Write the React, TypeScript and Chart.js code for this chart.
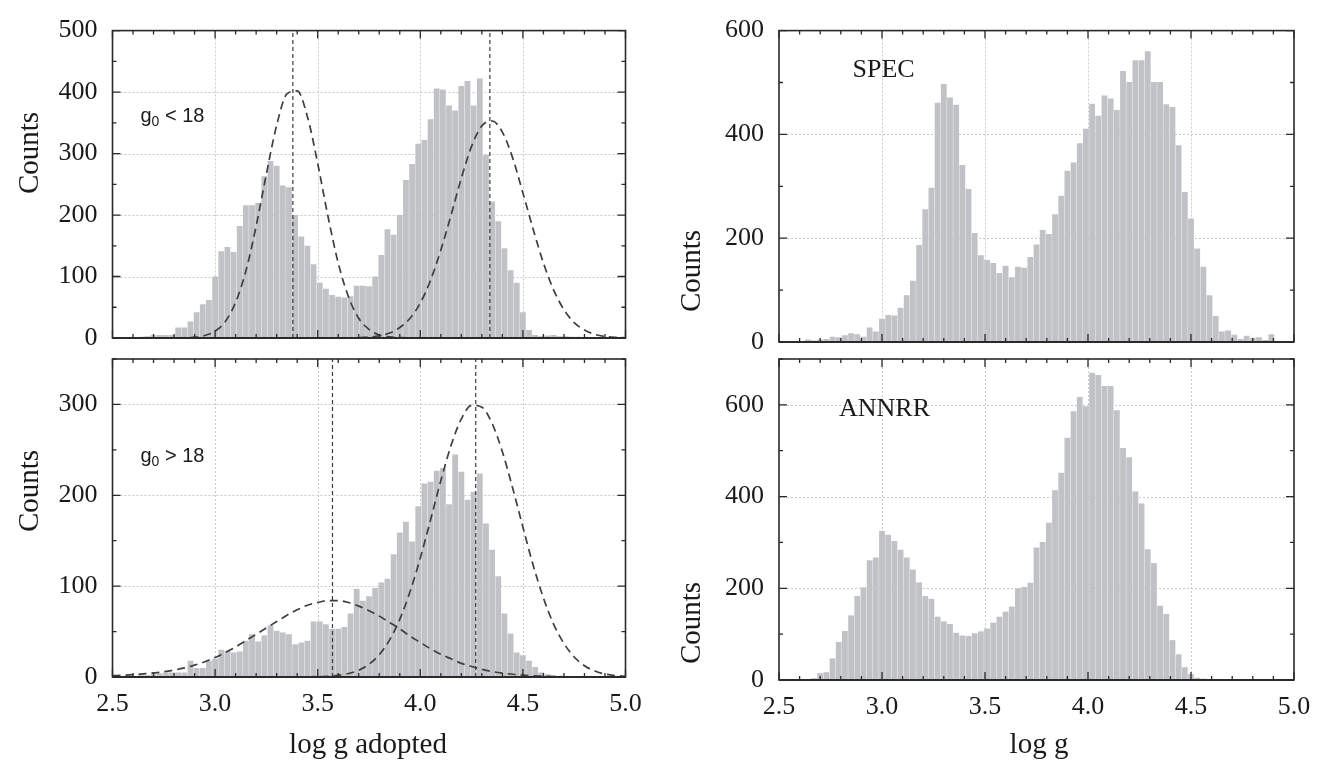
import { useEffect, useRef } from 'react';
import { Chart, registerables } from 'chart.js';

Chart.register(...registerables);

// ---------------- data ----------------
const BIN_START = 2.64; // centre of the first histogram bin
const BIN_WIDTH = 0.03;

const topLeftCounts = [
  2, 3, 5, 5, 5, 5, 17, 17, 27, 42,
  55, 62, 100, 141, 148, 140, 182, 216, 216, 220,
  263, 288, 280, 248, 245, 200, 165, 150, 120, 90,
  80, 70, 67, 66, 68, 85, 85, 84, 100, 135,
  177, 168, 200, 257, 283, 316, 322, 356, 406, 404,
  378, 370, 410, 418, 378, 422, 298, 222, 190, 146,
  110, 90, 42, 13, 5, 3, 4, 5, 3, 3,
  2, 2, 1, 1, 1, 1,
];

const bottomLeftCounts = [
  2, 2, 3, 4, 5, 5, 5, 5, 18, 10,
  10, 18, 20, 30, 29, 27, 28, 40, 47, 39,
  46, 57, 51, 49, 47, 36, 38, 40, 61, 61,
  58, 53, 53, 55, 70, 97, 84, 89, 98, 104,
  108, 135, 159, 171, 149, 188, 213, 215, 227, 230,
  190, 245, 226, 195, 204, 224, 169, 140, 111, 70,
  48, 27, 24, 18, 11, 5, 3, 2, 1, 1,
  1, 1, 1, 1, 0, 0,
];

const specCounts = [
  5, 3, 5, 6, 10, 9, 13, 17, 15, 10,
  28, 20, 45, 52, 51, 66, 90, 118, 187, 256,
  297, 461, 497, 471, 457, 341, 295, 210, 167, 158,
  152, 133, 147, 125, 145, 143, 164, 188, 216, 208,
  246, 282, 330, 346, 383, 411, 459, 436, 475, 469,
  447, 522, 501, 543, 543, 560, 501, 501, 458, 453,
  379, 289, 238, 180, 145, 90, 50, 20, 22, 14,
  6, 12, 8, 9, 4, 15,
];

const annrrCounts = [
  2, 4, 15, 17, 47, 83, 107, 141, 183, 202,
  261, 267, 325, 317, 303, 284, 267, 241, 213, 183,
  177, 138, 128, 122, 103, 97, 96, 102, 106, 112,
  125, 138, 149, 160, 200, 203, 212, 289, 301, 343,
  414, 452, 528, 586, 617, 597, 670, 665, 641, 641,
  588, 506, 486, 411, 385, 285, 255, 162, 144, 87,
  56, 28, 13, 5, 3, 2, 1, 1, 1, 1,
  1, 1, 0, 0, 0, 0,
];

const CURVE_X = [
  2.5, 2.55, 2.6, 2.65, 2.7, 2.75, 2.8, 2.85, 2.9, 2.95,
  3.0, 3.05, 3.1, 3.15, 3.2, 3.25, 3.3, 3.35, 3.4, 3.45,
  3.5, 3.55, 3.6, 3.65, 3.7, 3.75, 3.8, 3.85, 3.9, 3.95,
  4.0, 4.05, 4.1, 4.15, 4.2, 4.25, 4.3, 4.35, 4.4, 4.45,
  4.5, 4.55, 4.6, 4.65, 4.7, 4.75, 4.8, 4.85, 4.9, 4.95, 5.0,
];

const topLeftFitLow = [
  0, 0, 0, 0, 0, 0.1, 0.1, 0.4, 1.3, 4.1,
  11, 27, 58, 109, 182, 267, 346, 397, 402, 360,
  284, 198, 122, 67, 32, 14, 5, 1.7, 0.5, 0.1,
  0, 0, 0, 0, 0, 0, 0, 0, 0, 0,
  0, 0, 0, 0, 0, 0, 0, 0, 0, 0, 0,
];
const topLeftFitHigh = [
  0, 0, 0, 0, 0, 0, 0, 0, 0, 0,
  0, 0, 0, 0, 0, 0, 0, 0, 0, 0,
  0, 0, 0, 0.2, 0.6, 1.5, 3.6, 8, 17, 32,
  57, 94, 143, 200, 260, 312, 345, 353, 335, 293,
  236, 177, 122, 78, 46, 25, 13, 6, 2.5, 1, 0.4,
];
const bottomLeftFitLow = [
  1.5, 2, 2.6, 3.4, 4.5, 5.8, 7.6, 10, 13, 16.8,
  21.5, 27, 33, 40, 47, 54, 61, 68, 74, 79,
  82, 84, 84, 82, 78, 73, 67, 60, 53, 45,
  38, 31, 25, 20, 15, 11.5, 8.5, 6, 4.3, 3,
  2, 1.3, 0.9, 0.5, 0.3, 0.2, 0.1, 0, 0, 0, 0,
];
const bottomLeftFitHigh = [
  0, 0, 0, 0, 0, 0, 0, 0, 0, 0,
  0, 0, 0, 0, 0, 0, 0, 0, 0, 0.2,
  0.4, 0.8, 1.9, 3.8, 7.5, 14, 24.5, 40.6, 63.5, 94,
  131, 173, 216, 255, 284, 299, 297, 279, 248, 208,
  165, 123, 87, 58, 37, 22, 12.4, 6.6, 3.3, 1.6, 0.7,
];

const topLeftPeaks = [3.379, 4.339];
const bottomLeftPeaks = [3.572, 4.27];

const X_MIN = 2.5;
const X_MAX = 5.0;
const X_STEP = 0.5;
const X_MINOR = 0.1;

// ---------------- styling / layout ----------------
const W = 1341;
const H = 769;
const YW = 90;
const XH = 60;
const SERIF = '"Liberation Serif", "Times New Roman", Times, serif';
const SANS = '"Liberation Sans", Arial, Helvetica, sans-serif';
const BAR = 'rgb(192,194,197)';
const INK = '#1a1a1a';

type Part = { text: string; size: number; dy: number };
type Panel = {
  area: { l: number; t: number; r: number; b: number };
  yMax: number;
  yStep: number;
  yMinor: number;
  counts: number[];
  fits: number[][];
  peaks: number[];
  showX: boolean;
  label: { x: number; y: number; family: string; parts: Part[] };
  yTitle: { x: number; y: number };
  xTitle?: { text: string; x: number; y: number };
};

const panels: Panel[] = [
  {
    area: { l: 112.5, t: 20, r: 625.5, b: 338 },
    yMax: 500, yStep: 100, yMinor: 50,
    counts: topLeftCounts,
    fits: [topLeftFitLow, topLeftFitHigh],
    peaks: topLeftPeaks,
    showX: false,
    label: { x: 140.5, y: 122, family: SANS, parts: [
      { text: 'g', size: 20, dy: 0 }, { text: '0', size: 14, dy: 4 }, { text: ' < 18', size: 20, dy: 0 }] },
    yTitle: { x: 30, y: 153 },
  },
  {
    area: { l: 112.5, t: 359, r: 625.5, b: 677 },
    yMax: 350, yStep: 100, yMinor: 50,
    counts: bottomLeftCounts,
    fits: [bottomLeftFitLow, bottomLeftFitHigh],
    peaks: bottomLeftPeaks,
    showX: true,
    label: { x: 140.5, y: 462, family: SANS, parts: [
      { text: 'g', size: 20, dy: 0 }, { text: '0', size: 14, dy: 4 }, { text: ' > 18', size: 20, dy: 0 }] },
    yTitle: { x: 30, y: 491 },
    xTitle: { text: 'log g adopted', x: 368, y: 745 },
  },
  {
    area: { l: 779, t: 20, r: 1294, b: 342 },
    yMax: 600, yStep: 200, yMinor: 100,
    counts: specCounts,
    fits: [],
    peaks: [],
    showX: false,
    label: { x: 852.5, y: 77, family: SERIF, parts: [{ text: 'SPEC', size: 26, dy: 0 }] },
    yTitle: { x: 692, y: 271 },
  },
  {
    area: { l: 779, t: 359, r: 1294, b: 680 },
    yMax: 700, yStep: 200, yMinor: 100,
    counts: annrrCounts,
    fits: [],
    peaks: [],
    showX: true,
    label: { x: 839, y: 416, family: SERIF, parts: [{ text: 'ANNRR', size: 26, dy: 0 }] },
    yTitle: { x: 692, y: 623 },
    xTitle: { text: 'log g', x: 1039, y: 745 },
  },
];

function decorPlugin(p: Panel) {
  return {
    id: 'decor',
    beforeDatasetsDraw(chart: any) {
      const { ctx, chartArea: a, scales } = chart;
      const x = scales.x;
      const y = scales.y;
      ctx.save();
      ctx.strokeStyle = '#c9c9c9';
      ctx.lineWidth = 1;
      ctx.setLineDash([2, 2]);
      ctx.beginPath();
      for (const t of x.ticks) {
        if (t.value <= X_MIN + 1e-6 || t.value >= X_MAX - 1e-6) continue;
        const px = Math.round(x.getPixelForValue(t.value)) + 0.5;
        ctx.moveTo(px, a.top);
        ctx.lineTo(px, a.bottom);
      }
      for (const t of y.ticks) {
        if (t.value <= 1e-6 || t.value >= p.yMax - 1e-6) continue;
        const py = Math.round(y.getPixelForValue(t.value)) + 0.5;
        ctx.moveTo(a.left, py);
        ctx.lineTo(a.right, py);
      }
      ctx.stroke();
      ctx.restore();
    },
    afterDatasetsDraw(chart: any) {
      const { ctx, chartArea: a, scales } = chart;
      const x = scales.x;
      const y = scales.y;
      ctx.save();
      ctx.strokeStyle = '#2a2a2a';
      ctx.lineWidth = 1.3;
      ctx.setLineDash([]);
      ctx.beginPath();
      const nx = Math.round((X_MAX - X_MIN) / X_MINOR);
      for (let i = 0; i <= nx; i++) {
        const v = X_MIN + i * X_MINOR;
        const len = i % Math.round(X_STEP / X_MINOR) === 0 ? 8 : 4;
        const px = x.getPixelForValue(v);
        ctx.moveTo(px, a.bottom); ctx.lineTo(px, a.bottom - len);
        ctx.moveTo(px, a.top); ctx.lineTo(px, a.top + len);
      }
      const ny = Math.round(p.yMax / p.yMinor);
      for (let i = 0; i <= ny; i++) {
        const v = i * p.yMinor;
        const len = Math.abs(v / p.yStep - Math.round(v / p.yStep)) < 1e-6 ? 8 : 4;
        const py = y.getPixelForValue(v);
        ctx.moveTo(a.left, py); ctx.lineTo(a.left + len, py);
        ctx.moveTo(a.right, py); ctx.lineTo(a.right - len, py);
      }
      ctx.stroke();
      ctx.lineWidth = 1.6;
      ctx.strokeRect(a.left, a.top, a.right - a.left, a.bottom - a.top);
      ctx.lineWidth = 2.2;
      ctx.beginPath();
      ctx.moveTo(a.left, a.bottom);
      ctx.lineTo(a.right, a.bottom);
      ctx.stroke();
      ctx.restore();
    },
    afterDraw(chart: any) {
      const { ctx } = chart;
      ctx.save();
      ctx.fillStyle = INK;
      // in-panel label
      ctx.textAlign = 'left';
      ctx.textBaseline = 'alphabetic';
      let cx = p.label.x;
      for (const part of p.label.parts) {
        ctx.font = `${part.size}px ${p.label.family}`;
        ctx.fillText(part.text, cx, p.label.y + part.dy);
        cx += ctx.measureText(part.text).width;
      }
      // y title
      ctx.font = `29px ${SERIF}`;
      ctx.textAlign = 'center';
      ctx.textBaseline = 'middle';
      ctx.save();
      ctx.translate(p.yTitle.x, p.yTitle.y);
      ctx.rotate(-Math.PI / 2);
      ctx.fillText('Counts', 0, 0);
      ctx.restore();
      if (p.xTitle) {
        ctx.fillText(p.xTitle.text, p.xTitle.x, p.xTitle.y);
      }
      ctx.restore();
    },
  };
}

function makeConfig(p: Panel): any {
  const datasets: any[] = [
    {
      type: 'bar',
      data: p.counts.map((c, i) => ({ x: BIN_START + i * BIN_WIDTH, y: c })),
      backgroundColor: BAR,
      borderWidth: 0,
      barPercentage: 0.94,
      categoryPercentage: 1,
      order: 5,
    },
  ];
  for (const pk of p.peaks) {
    datasets.push({
      type: 'line',
      data: [{ x: pk, y: 0 }, { x: pk, y: p.yMax }],
      borderColor: '#3a3a3a',
      borderWidth: 1.2,
      borderDash: [4, 3],
      pointRadius: 0,
      fill: false,
      order: 2,
    });
  }
  for (const f of p.fits) {
    datasets.push({
      type: 'line',
      data: CURVE_X.map((xv, i) => ({ x: xv, y: f[i] })),
      borderColor: '#3f3f3f',
      borderWidth: 1.7,
      borderDash: [8, 5],
      pointRadius: 0,
      fill: false,
      cubicInterpolationMode: 'monotone',
      order: 1,
    });
  }
  return {
    type: 'bar',
    data: { datasets },
    options: {
      responsive: false,
      animation: false,
      events: [],
      layout: {
        padding: {
          left: p.area.l - YW,
          top: p.area.t,
          right: W - p.area.r,
          bottom: H - p.area.b - XH,
        },
      },
      plugins: { legend: { display: false }, tooltip: { enabled: false } },
      scales: {
        x: {
          type: 'linear',
          min: X_MIN,
          max: X_MAX,
          offset: false,
          grid: { display: false, drawTicks: false },
          border: { display: false },
          ticks: {
            display: p.showX,
            stepSize: X_STEP,
            autoSkip: false,
            maxRotation: 0,
            padding: 12,
            color: INK,
            font: { family: SERIF, size: 26 },
            callback: (v: any) => Number(v).toFixed(1),
          },
          afterFit: (s: any) => { s.height = XH; },
        },
        y: {
          type: 'linear',
          min: 0,
          max: p.yMax,
          grid: { display: false, drawTicks: false },
          border: { display: false },
          ticks: {
            stepSize: p.yStep,
            includeBounds: false,
            autoSkip: false,
            padding: 15,
            color: INK,
            font: { family: SERIF, size: 26 },
          },
          afterFit: (s: any) => { s.width = YW; },
        },
      },
    },
    plugins: [decorPlugin(p)],
  };
}

export default function App() {
  const refs = useRef<(HTMLCanvasElement | null)[]>([]);
  useEffect(() => {
    const charts = panels.map((p, i) => new Chart(refs.current[i] as HTMLCanvasElement, makeConfig(p)));
    return () => charts.forEach((c) => c.destroy());
  }, []);
  return (
    <div style={{ position: 'absolute', left: 0, top: 0, width: W, height: H, background: '#fff', overflow: 'hidden' }}>
      {panels.map((_, i) => (
        <canvas
          key={i}
          ref={(el) => { refs.current[i] = el; }}
          width={W}
          height={H}
          style={{ position: 'absolute', left: 0, top: 0, width: W, height: H }}
        />
      ))}
    </div>
  );
}
